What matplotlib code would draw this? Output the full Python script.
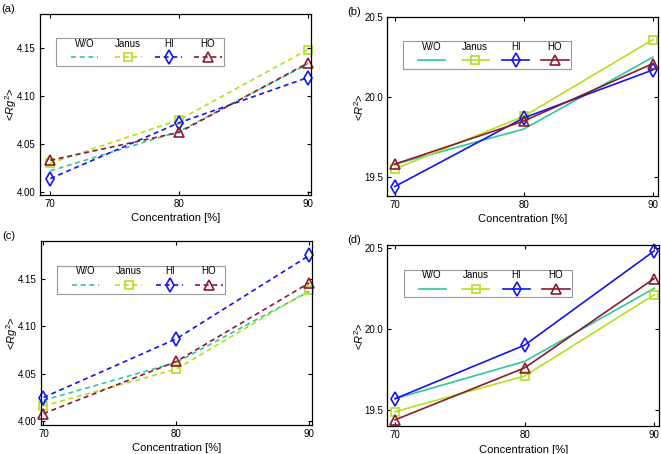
import matplotlib.pyplot as plt
from matplotlib.patches import Rectangle

plt.rcParams['font.family'] = ['Liberation Sans', 'DejaVu Sans']
plt.rcParams['mathtext.fontset'] = 'custom'
plt.rcParams['mathtext.it'] = 'Liberation Sans:italic'
plt.rcParams['mathtext.rm'] = 'Liberation Sans'

# Concentrations on the x axis
conc = [70, 80, 90]
series = ['W/O', 'Janus', 'HI', 'HO']

# (a) <Rg^2>, dashed
rg_a_wo = [4.022, 4.063, 4.133]
rg_a_janus = [4.030, 4.075, 4.148]
rg_a_hi = [4.014, 4.072, 4.119]
rg_a_ho = [4.033, 4.062, 4.134]

# (b) <R^2>, solid
r2_b_wo = [19.58, 19.80, 20.25]
r2_b_janus = [19.55, 19.88, 20.36]
r2_b_hi = [19.44, 19.87, 20.17]
r2_b_ho = [19.58, 19.85, 20.21]

# (c) <Rg^2>, dashed
rg_c_wo = [4.022, 4.062, 4.137]
rg_c_janus = [4.016, 4.055, 4.138]
rg_c_hi = [4.025, 4.087, 4.175]
rg_c_ho = [4.008, 4.063, 4.146]

# (d) <R^2>, solid
r2_d_wo = [19.57, 19.80, 20.25]
r2_d_janus = [19.49, 19.71, 20.21]
r2_d_hi = [19.57, 19.90, 20.48]
r2_d_ho = [19.44, 19.76, 20.31]

colors = ['#2fc89a', '#b4e01c', '#1414f0', '#8a1a30']
markers = ['None', 's', 'd', '^']
msizes = [0, 5.5, 7.5, 6.5]

fig = plt.figure(figsize=(6.61, 4.54), dpi=100)

panels = [
    ('(a)', [0.0605, 0.5705, 0.41, 0.3987], [rg_a_wo, rg_a_janus, rg_a_hi, rg_a_ho],
     '--', (69.2, 90.25), (3.997, 4.185), [4.00, 4.05, 4.10, 4.15], '%.2f', r'<$Rg^2$>'),
    ('(b)', [0.5855, 0.568, 0.41, 0.394], [r2_b_wo, r2_b_janus, r2_b_hi, r2_b_ho],
     '-', (69.4, 90.4), (19.38, 20.5), [19.5, 20.0, 20.5], '%.1f', r'<$R^2$>'),
    ('(c)', [0.0616, 0.0639, 0.4105, 0.405], [rg_c_wo, rg_c_janus, rg_c_hi, rg_c_ho],
     '--', (69.8, 90.2), (3.996, 4.19), [4.00, 4.05, 4.10, 4.15], '%.2f', r'<$Rg^2$>'),
    ('(d)', [0.586, 0.061, 0.4115, 0.3987], [r2_d_wo, r2_d_janus, r2_d_hi, r2_d_ho],
     '-', (69.4, 90.4), (19.40, 20.515), [19.5, 20.0, 20.5], '%.1f', r'<$R^2$>'),
]

for tag, rect, data, ls, xlim, ylim, yticks, fmt, ylabel in panels:
    ax = fig.add_axes(rect)
    for vals, c, m, ms in zip(data, colors, markers, msizes):
        ax.plot(conc, vals, linestyle=ls, color=c, linewidth=1.2, marker=m,
                markersize=ms, markerfacecolor='none', markeredgecolor=c,
                markeredgewidth=1.2, dashes=(3, 2.2) if ls == '--' else (None, None),
                clip_on=False)
    ax.set_xlim(*xlim)
    ax.set_ylim(*ylim)
    ax.set_xticks(conc)
    ax.set_yticks(yticks)
    ax.set_yticklabels([fmt % t for t in yticks])
    ax.tick_params(direction='in', top=True, right=True, length=3, width=0.8,
                   labelsize=7, pad=3)
    for sp in ax.spines.values():
        sp.set_linewidth(0.9)
    ax.set_xlabel('Concentration [%]', fontsize=8, labelpad=3)
    ax.set_ylabel(ylabel, fontsize=8)
    ax.yaxis.set_label_coords(-0.078, 0.5)
    fig.text(rect[0] - 0.058 if tag in ('(a)', '(c)') else rect[0] - 0.06,
             rect[1] + rect[3] + 0.012, tag, fontsize=8, va='center', ha='left')

    # legend box with labels above the handles
    ax.add_patch(Rectangle((0.06, 0.713), 0.62, 0.152, transform=ax.transAxes,
                           facecolor='white', edgecolor='#999999', linewidth=0.8,
                           zorder=5))
    centers = [0.165, 0.325, 0.475, 0.62]
    for name, cx, c, m, ms in zip(series, centers, colors, markers, msizes):
        ax.text(cx, 0.835, name, transform=ax.transAxes, ha='center',
                va='center', fontsize=7, zorder=6)
        ax.plot([cx - 0.05, cx + 0.05], [0.76, 0.76], transform=ax.transAxes,
                linestyle=ls, color=c, linewidth=1.2,
                dashes=(3, 2.2) if ls == '--' else (None, None), zorder=6)
        ax.plot([cx], [0.76], transform=ax.transAxes, marker=m, markersize=ms,
                markerfacecolor='none', markeredgecolor=c, markeredgewidth=1.2,
                linestyle='None', zorder=7)

plt.savefig('out.png', dpi=100)
